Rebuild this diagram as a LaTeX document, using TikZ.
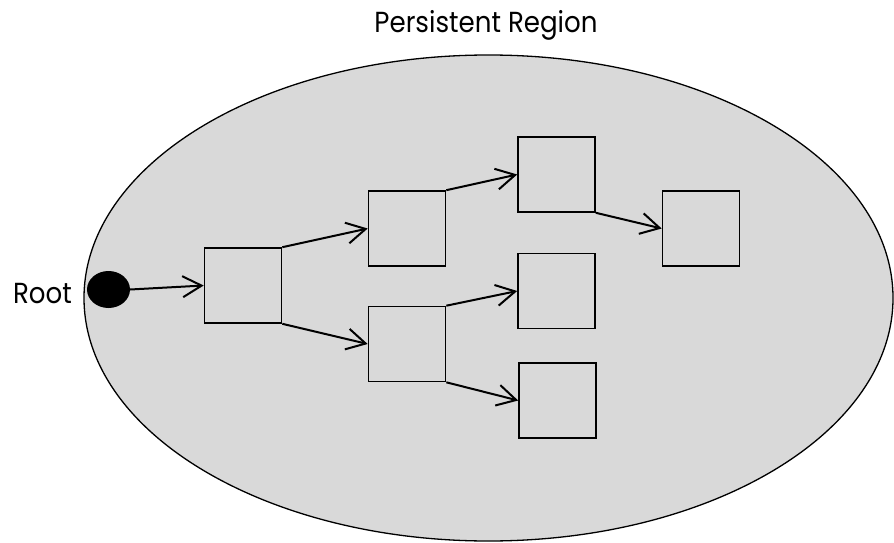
\documentclass[tikz,border=0pt]{standalone}
\usepackage{fontspec}
\setmainfont[FakeStretch=0.9]{Poppins}
\usetikzlibrary{arrows.meta,shapes.geometric}
\definecolor{regionfill}{HTML}{D9D9D9}
\tikzset{
  cell/.style={draw=black, line width=1.6pt, fill=regionfill, minimum width=77pt, minimum height=75pt, inner sep=0pt},
  link/.style={line width=2pt, -{Straight Barb[length=19pt, width=21pt, line width=2pt]}},
  caption/.style={font=\fontsize{29pt}{34pt}\selectfont, inner sep=0pt, anchor=base}
}
\begin{document}
\begin{tikzpicture}[x=1pt, y=-1pt]
  \useasboundingbox (0,0) rectangle (894,543);
  % persistent region
  \draw[line width=1.3pt, fill=regionfill] (488.5,298) ellipse [x radius=404.5pt, y radius=243pt];
  \node[caption] (title) at (486,32.7) {Persistent Region};
  % root pointer
  \node[ellipse, fill=black, minimum width=43pt, minimum height=37pt, inner sep=0pt] (root) at (108.5,289.5) {};
  \node[caption, anchor=base east] (rootlabel) at (72,303) {Root};
  % objects
  \node[cell] (a) at (243,285.5) {};
  \node[cell] (b) at (407,228.5) {};
  \node[cell] (c) at (556.5,174.5) {};
  \node[cell] (d) at (701,228.5) {};
  \node[cell] (e) at (556.5,291) {};
  \node[cell] (f) at (407,344) {};
  \node[cell] (g) at (557.5,400.5) {};
  % references
  \draw[link] (root.east) -- (a.west);
  \draw[link] (a.north east) -- (b.west);
  \draw[link] (a.south east) -- (f.west);
  \draw[link] (b.north east) -- (c.west);
  \draw[link] (c.south east) -- (d.west);
  \draw[link] (f.north east) -- (e.west);
  \draw[link] (f.south east) -- (g.west);
\end{tikzpicture}
\end{document}
